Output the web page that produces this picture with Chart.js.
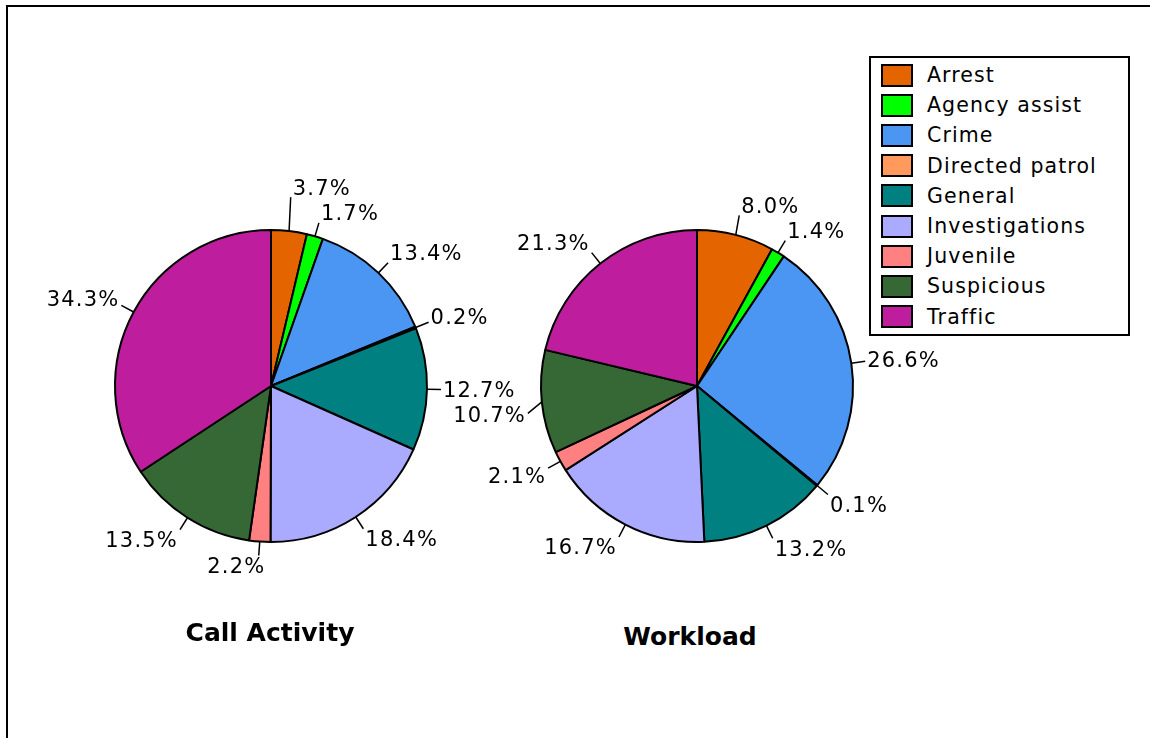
<!DOCTYPE html>
<html>
<head>
<meta charset="utf-8">
<script src="https://cdn.jsdelivr.net/npm/chart.js@4.4.1/dist/chart.umd.min.js"></script>
<style>
  body {
    margin: 0;
    width: 1150px;
    height: 738px;
    background: #fff;
    position: relative;
    overflow: hidden;
    font-family: 'DejaVu Sans', Verdana, sans-serif;
    color: #000;
  }
  .frame {
    position: absolute;
    left: 6px;
    top: 5px;
    right: 0;
    bottom: 0;
    border-top: 2px solid #000;
    border-left: 2px solid #000;
  }
  canvas.pie {
    position: absolute;
    top: 150px;
  }
  #call-activity { left: 0; }
  #workload { left: 430px; }
  .title {
    position: absolute;
    font-weight: bold;
    font-size: 25px;
    transform: translate(-50%, -50%);
    white-space: nowrap;
  }
  #legend {
    position: absolute;
    left: 869px;
    top: 56px;
    width: 261px;
    height: 280px;
    box-sizing: border-box;
    border: 2px solid #000;
    background: #fff;
    padding-top: 2px;
  }
  .item {
    display: flex;
    align-items: center;
    height: 30.2px;
    font-size: 20.5px;
    letter-spacing: 1.1px;
  }
  .swatch {
    box-sizing: border-box;
    width: 32px;
    height: 23px;
    border: 2px solid #000;
    margin-left: 10px;
    margin-right: 14px;
  }
</style>
</head>
<body>
<div class="frame"></div>
<canvas id="call-activity" class="pie" width="540" height="470"></canvas>
<canvas id="workload" class="pie" width="540" height="470"></canvas>
<div id="titles"></div>
<div id="legend"></div>

<script>
// data
const categories = ['Arrest', 'Agency assist', 'Crime', 'Directed patrol', 'General',
  'Investigations', 'Juvenile', 'Suspicious', 'Traffic'];
const callActivity = [3.7, 1.7, 13.4, 0.2, 12.7, 18.4, 2.2, 13.5, 34.3];
const workload = [8.0, 1.4, 26.6, 0.1, 13.2, 16.7, 2.1, 10.7, 21.3];
const chartTitles = ['Call Activity', 'Workload'];

const palette = ['#E46400', '#00FF00', '#4B96F2', '#FF9A5C', '#008080',
  '#AAAAFF', '#FF8080', '#366836', '#BE1E9E'];

const clamp = (v) => Math.max(-1, Math.min(1, v));
const overlaps = (a, b) => a.x0 < b.x1 && b.x0 < a.x1 && a.y0 < b.y1 && b.y0 < a.y1;

// label boxes in page coords, shared by both pies so they don't collide
const placedLabels = [];

// percent labels with short leader lines, nudged up/down when they collide
const pieLabels = {
  id: 'pieLabels',
  afterDatasetsDraw(chart) {
    const ctx = chart.ctx;
    const offX = chart.canvas.offsetLeft, offY = chart.canvas.offsetTop;
    const meta = chart.getDatasetMeta(0);
    const values = chart.data.datasets[0].data;
    ctx.save();
    ctx.font = '21px "DejaVu Sans"';
    ctx.letterSpacing = '1.2px';
    ctx.fillStyle = '#000';
    ctx.strokeStyle = '#000';
    ctx.lineWidth = 1.5;
    ctx.textAlign = 'center';
    ctx.textBaseline = 'middle';
    for (let i = meta.data.length - 1; i >= 0; i--) {
      const p = meta.data[i].getProps(['x', 'y', 'startAngle', 'endAngle', 'outerRadius'], true);
      const a = (p.startAngle + p.endAngle) / 2;
      const dx = Math.cos(a), dy = Math.sin(a);
      const text = values[i].toFixed(1) + '%';
      const w = ctx.measureText(text).width, h = 20, gap = 2;
      const len = 14;
      const ex = p.x + (p.outerRadius + len) * dx;
      const baseY = p.y + (p.outerRadius + len) * dy;
      const cx = ex + clamp(dx * 10) * (w / 2 + 2);
      const step = dy >= -0.05 ? 2 : -2;
      let shift = 0, box;
      for (let n = 0; n < 40; n++) {
        const ey = baseY + shift;
        const cy = ey + clamp(dy * 1.5) * (h / 2);
        box = { x0: cx - w / 2 + offX, x1: cx + w / 2 + offX,
                y0: cy - h / 2 - gap + offY, y1: cy + h / 2 + gap + offY, ey, cy };
        if (!placedLabels.some(b => overlaps(b, box))) break;
        shift += step;
      }
      placedLabels.push(box);
      ctx.beginPath();
      ctx.moveTo(p.x + p.outerRadius * dx, p.y + p.outerRadius * dy);
      ctx.lineTo(ex, box.ey);
      ctx.stroke();
      ctx.fillText(text, cx, box.cy + 2);
    }
    ctx.restore();
  }
};

function makePie(id, values, pad) {
  return new Chart(document.getElementById(id), {
    type: 'pie',
    data: {
      labels: categories,
      datasets: [{
        data: values,
        backgroundColor: palette,
        borderColor: '#000',
        borderWidth: 2,
      }],
    },
    options: {
      responsive: false,
      animation: false,
      devicePixelRatio: 1,
      radius: 156,
      layout: { padding: pad },
      plugins: {
        legend: { display: false },
        tooltip: { enabled: false },
      },
    },
    plugins: [pieLabels],
  });
}

makePie('call-activity', callActivity, { left: 111, right: 109, top: 76, bottom: 74 });
makePie('workload', workload, { left: 107, right: 113, top: 76, bottom: 74 });

// titles under each pie
const titleSpots = [[270, 632], [690, 636]];
const titleBox = document.getElementById('titles');
chartTitles.forEach((t, i) => {
  const d = document.createElement('div');
  d.className = 'title';
  d.textContent = t;
  d.style.left = titleSpots[i][0] + 'px';
  d.style.top = titleSpots[i][1] + 'px';
  titleBox.appendChild(d);
});

// legend box
const legend = document.getElementById('legend');
categories.forEach((c, i) => {
  const row = document.createElement('div');
  row.className = 'item';
  const sw = document.createElement('span');
  sw.className = 'swatch';
  sw.style.background = palette[i];
  const label = document.createElement('span');
  label.textContent = c;
  row.appendChild(sw);
  row.appendChild(label);
  legend.appendChild(row);
});
</script>
</body>
</html>
